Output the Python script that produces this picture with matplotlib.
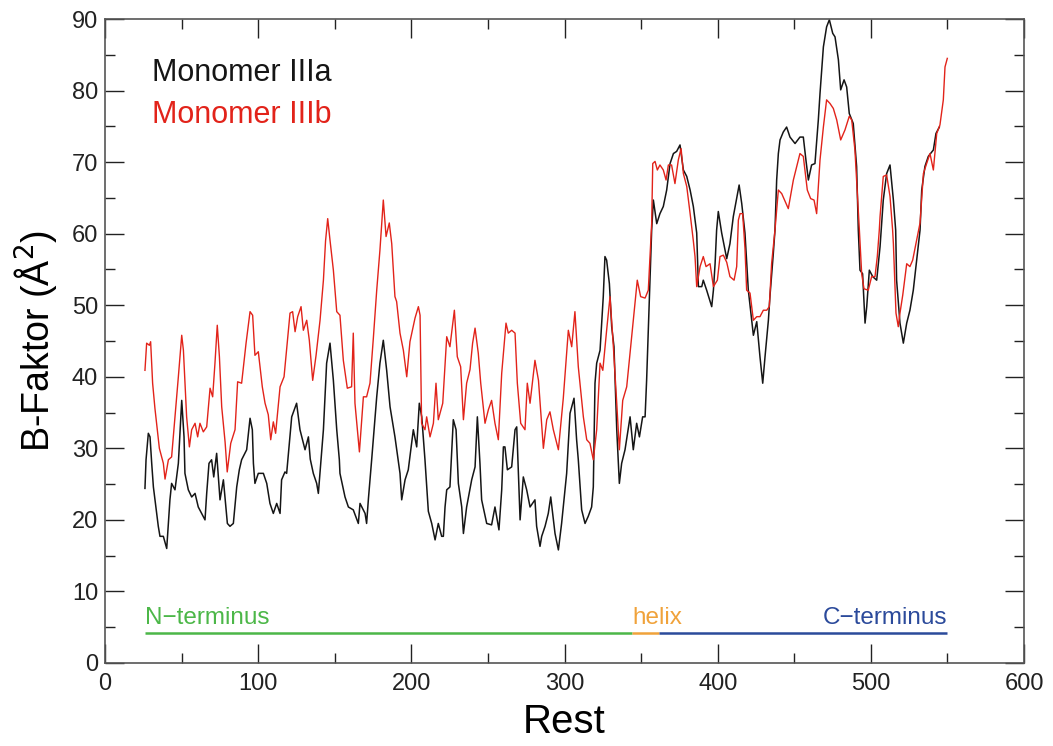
import numpy as np
import matplotlib
matplotlib.use('Agg')
import matplotlib.pyplot as plt
from matplotlib.ticker import MultipleLocator

plt.rcParams['font.family'] = ['Liberation Sans', 'DejaVu Sans']

# Monomer IIIa (black)
res_a = [26.1, 26.8, 28.3, 29.4, 30.5, 31.6, 34.8, 35.9, 38.1, 40.3, 42.4, 43.5, 45.7, 47.9, 50.1, 51.6,
         52.2, 54.4, 56.6, 58.8, 60.9, 63.1, 65.3, 66.4, 67.9, 69.6, 71.0, 72.9, 75.1, 77.3, 79.9, 81.6,
         83.8, 86.0, 87.7, 89.2, 92.5, 94.7, 96.2, 96.9, 97.9, 100.1, 103.4, 105.6, 107.7, 109.9, 112.1,
         114.3, 115.3, 117.5, 118.6, 121.9, 125.1, 127.3, 130.6, 132.8, 134.0, 136.0, 138.2, 139.3, 142.6,
         144.7, 146.9, 149.1, 151.3, 153.0, 153.4, 156.7, 158.9, 162.1, 165.4, 166.5, 169.8, 170.8, 172.0,
         174.1, 177.4, 179.5, 181.7, 183.9, 186.1, 189.3, 192.6, 193.7, 195.9, 198.0, 201.3, 203.5, 205.2,
         206.8, 208.9, 211.1, 213.3, 215.5, 217.6, 219.8, 220.9, 222.0, 223.1, 225.2, 227.4, 229.2, 230.7,
         232.9, 234.0, 236.1, 239.4, 241.6, 243.1, 244.8, 245.9, 249.2, 252.4, 254.6, 257.2, 259.0, 260.1,
         261.1, 262.7, 265.5, 267.7, 268.8, 269.9, 271.0, 273.1, 275.3, 277.5, 280.7, 281.8, 284.0, 285.1,
         287.3, 289.4, 291.0, 293.8, 296.0, 298.1, 301.4, 303.6, 306.2, 307.9, 309.0, 311.2, 313.4, 315.5,
         317.7, 318.8, 319.9, 321.0, 323.2, 325.3, 326.4, 327.5, 329.3, 330.8, 332.3, 334.1, 335.8, 337.3,
         339.5, 342.8, 344.9, 347.1, 348.9, 351.0, 352.6, 353.6, 354.7, 355.8, 356.9, 358.0, 360.2, 362.3,
         364.5, 366.7, 368.9, 371.1, 373.2, 375.4, 377.6, 379.8, 382.0, 384.1, 386.3, 387.4, 389.6, 390.6,
         392.8, 396.1, 397.2, 398.3, 399.3, 400.4, 402.6, 405.9, 408.0, 410.2, 414.0, 415.7, 417.8, 420.0,
         423.3, 425.5, 427.6, 429.4, 430.9, 433.1, 434.1, 436.3, 437.4, 438.5, 439.6, 440.7, 442.8, 445.0,
         447.2, 450.5, 453.7, 455.9, 457.6, 459.2, 461.3, 463.5, 465.7, 466.8, 469.0, 471.1, 472.9, 475.1,
         476.6, 478.8, 480.3, 482.5, 484.2, 485.9, 488.5, 490.7, 491.8, 492.9, 494.6, 496.2, 497.3, 499.0,
         501.2, 503.8, 506.0, 508.1, 510.3, 512.5, 514.7, 516.2, 516.8, 519.0, 521.2, 523.4, 525.5, 527.7,
         529.9, 532.1, 533.2, 535.3, 537.5, 540.8, 542.5, 544.7]
b_a = [24.4, 28.4, 32.1, 31.6, 27.9, 24.6, 19.1, 17.7, 17.7, 16.0, 22.8, 25.1, 24.2, 27.9, 36.7, 31.6,
       26.5, 24.2, 23.2, 23.7, 21.8, 20.9, 20.0, 23.7, 27.9, 28.4, 26.0, 29.3, 22.8, 25.6, 19.5, 19.1,
       19.5, 24.6, 27.0, 28.4, 29.8, 34.2, 32.6, 27.9, 25.1, 26.5, 26.5, 25.1, 22.3, 20.9, 22.3,
       20.9, 25.6, 26.7, 26.5, 34.4, 36.3, 32.6, 29.8, 31.6, 28.5, 26.5, 25.1, 23.7, 32.6,
       41.9, 44.7, 39.5, 32.6, 28.4, 26.5, 23.2, 21.8, 21.4, 19.5, 22.3, 20.9, 19.5, 23.0,
       28.4, 37.2, 41.9, 45.1, 40.9, 35.8, 31.6, 26.5, 22.8, 25.6, 27.0, 32.6, 30.2, 36.3,
       34.4, 28.4, 21.2, 19.5, 17.2, 19.5, 17.7, 17.7, 21.8, 24.2, 24.6, 34.0, 32.6, 25.1,
       21.8, 18.1, 21.8, 25.6, 27.4, 34.4, 27.9, 22.8, 19.5, 19.3, 21.8, 18.6, 24.2, 30.2,
       30.2, 27.0, 27.4, 32.6, 33.0, 26.5, 20.0, 26.0, 24.2, 21.8, 22.8, 19.1, 16.3, 17.7,
       19.1, 20.9, 23.2, 18.1, 15.8, 19.5, 26.5, 34.9, 37.0, 31.2, 28.4, 21.4, 19.5, 20.5,
       21.8, 24.6, 39.1, 41.9, 43.7, 51.2, 56.8, 56.3, 53.0, 47.0, 44.2, 32.6, 25.1, 27.9,
       29.8, 34.4, 29.8, 33.5, 31.6, 34.4, 34.4, 39.5, 46.5, 53.5, 60.5, 64.7, 61.4, 62.8,
       63.8, 66.1, 69.8, 71.2, 71.5, 72.4, 68.9, 68.0, 66.1, 63.8, 60.1, 52.6, 52.6, 53.5,
       52.1, 49.8, 52.1, 55.8, 60.5, 63.1, 60.1, 56.5, 58.6, 62.4, 66.8, 64.2, 60.1, 52.1,
       45.8, 47.7, 42.8, 39.1, 42.8, 47.9, 51.2, 57.2, 60.5, 67.5, 71.2, 73.1, 74.2, 74.9,
       73.5, 72.6, 73.5, 73.5, 70.3, 67.5, 69.6, 69.8, 75.9, 79.6, 86.1, 88.9, 89.9, 88.0,
       87.5, 84.3, 80.1, 81.5, 80.5, 76.8, 75.4, 69.4, 60.5, 54.9, 54.4, 47.5, 49.8, 54.9,
       54.0, 53.5, 58.2, 64.7, 68.4, 69.6, 64.7, 60.5, 53.5, 47.5, 44.7, 47.5, 49.3, 52.1,
       56.3, 60.5, 66.1, 69.4, 70.8, 71.7, 74.0, 74.9]

# Monomer IIIb (red)
res_b = [26.1, 27.2, 29.0, 29.8, 31.1, 32.6, 35.5, 38.1, 39.2, 41.4, 43.5, 45.7, 47.9, 50.1, 51.2, 53.3,
         55.1, 56.6, 58.8, 60.5, 62.0, 64.2, 66.4, 68.6, 70.3, 71.8, 73.3, 74.7, 76.2, 78.4, 79.8, 82.1,
         84.9, 86.6, 89.2, 92.1, 94.7, 96.4, 97.9, 100.1, 102.7, 104.5, 106.6, 108.2, 109.9, 111.4, 114.3,
         116.9, 119.1, 120.8, 122.5, 124.1, 125.8, 128.0, 129.5, 131.7, 133.4, 135.6, 137.8, 140.4, 142.6,
         144.0, 145.4, 146.9, 149.1, 151.3, 153.4, 155.6, 158.2, 161.0, 162.1, 163.2, 166.1, 168.7, 170.8,
         173.0, 175.2, 177.4, 179.5, 181.7, 183.5, 185.6, 187.2, 189.3, 190.4, 192.6, 194.8, 197.0, 199.1,
         202.4, 204.6, 205.7, 206.7, 208.9, 210.0, 212.2, 214.4, 216.1, 217.6, 220.5, 223.1, 225.2, 228.1,
         230.0, 232.2, 234.0, 236.1, 238.3, 240.0, 241.6, 243.7, 245.3, 248.1, 250.3, 252.4, 254.6, 256.8,
         259.0, 261.8, 263.3, 265.5, 267.7, 269.2, 271.4, 274.2, 275.7, 277.5, 280.7, 283.0, 286.2, 288.4,
         290.5, 292.7, 296.0, 299.2, 302.5, 304.7, 306.8, 309.0, 312.3, 314.5, 316.6, 318.8, 321.0, 323.2,
         325.0, 327.5, 329.7, 331.9, 334.1, 335.8, 338.0, 340.6, 343.2, 345.4, 347.5, 349.7, 352.6, 354.7,
         355.8, 356.9, 357.6, 359.1, 360.6, 362.3, 364.5, 366.3, 367.8, 369.9, 372.1, 374.3, 376.1, 377.6,
         379.8, 382.0, 384.1, 385.2, 386.3, 388.5, 390.6, 392.4, 395.0, 397.2, 399.8, 401.5, 403.7, 405.9,
         408.0, 410.7, 412.4, 413.5, 414.6, 416.3, 417.8, 418.9, 421.1, 423.3, 425.5, 427.6, 429.8, 432.0,
         433.7, 435.2, 437.4, 439.6, 441.8, 446.1, 449.4, 453.7, 455.9, 458.5, 460.7, 462.9, 464.6, 466.8,
         469.0, 471.1, 473.3, 475.5, 477.7, 480.3, 483.1, 485.9, 487.5, 489.6, 491.2, 492.5, 494.0, 495.5,
         498.3, 500.5, 502.7, 504.2, 505.5, 506.0, 508.1, 510.3, 512.5, 514.2, 514.7, 516.4, 517.9, 519.0,
         520.8, 523.4, 525.5, 527.3, 529.9, 532.1, 534.3, 536.4, 538.6, 540.8, 543.0, 545.1, 547.3, 548.4,
         549.9]
b_b = [40.9, 44.7, 44.4, 44.9, 39.1, 35.6, 30.0, 27.9, 25.7, 28.4, 28.8, 34.4, 40.0, 45.8, 43.7, 34.4,
       30.2, 32.6, 33.5, 31.6, 33.5, 32.3, 33.0, 38.4, 37.2, 41.9, 47.2, 42.8, 35.8, 30.9, 26.7, 30.7,
       32.6, 39.3, 39.1, 44.7, 49.1, 48.6, 43.0, 43.5, 38.6, 36.3, 34.7, 31.2, 33.7, 32.1, 38.6,
       40.0, 45.1, 48.9, 49.1, 46.3, 48.4, 49.8, 46.5, 47.9, 45.1, 39.5, 43.0, 47.9, 53.5,
       59.0, 62.1, 59.1, 54.9, 49.1, 48.6, 42.3, 38.4, 38.6, 46.1, 36.3, 29.5, 37.2, 37.2,
       39.1, 45.4, 52.1, 57.7, 64.7, 59.6, 61.5, 58.6, 51.2, 50.5, 46.1, 43.7, 40.0, 44.9,
       48.2, 49.8, 48.6, 33.5, 32.6, 34.4, 31.6, 33.5, 39.1, 34.0, 36.3, 45.6, 44.2, 49.3,
       42.8, 41.4, 34.0, 39.1, 41.0, 44.7, 46.8, 43.3, 39.1, 33.5, 35.4, 36.7, 33.5, 31.2,
       40.5, 47.5, 46.1, 46.5, 46.1, 39.1, 33.5, 32.6, 39.1, 36.3, 42.3, 39.5, 30.0, 34.0,
       35.1, 32.6, 29.8, 37.0, 46.5, 44.2, 49.1, 41.4, 34.4, 31.2, 30.7, 28.4, 32.6, 41.9,
       40.9, 46.5, 51.2, 44.2, 36.3, 29.8, 36.7, 38.6, 44.2, 48.9, 53.5, 51.2, 51.0, 52.1,
       56.8, 61.4, 69.8, 70.1, 68.9, 69.6, 68.9, 67.5, 69.6, 69.6, 67.0, 70.3, 71.9, 68.4,
       66.6, 62.8, 59.0, 56.8, 52.6, 55.4, 56.8, 55.4, 55.8, 52.6, 53.5, 56.8, 57.0, 56.0,
       54.0, 53.5, 55.4, 61.9, 62.8, 62.8, 58.0, 52.1, 51.7, 47.9, 48.4, 48.4, 49.3, 49.3,
       49.8, 55.8, 60.5, 66.1, 65.6, 63.5, 67.5, 71.2, 70.8, 66.1, 64.9, 64.7, 62.8, 70.3,
       74.9, 78.7, 78.2, 77.5, 75.9, 73.1, 74.5, 76.4, 75.9, 71.7, 65.6, 60.5, 54.4, 52.3,
       52.1, 54.0, 54.0, 56.8, 60.5, 62.4, 68.0, 68.2, 65.2, 60.5, 58.6, 48.9, 47.0, 48.9,
       51.4, 55.8, 55.4, 56.3, 59.1, 61.5, 68.4, 69.8, 71.2, 68.9, 74.0, 75.2, 78.7, 83.3,
       84.5]

# structural regions (residue ranges)
regions = ['N\u2212terminus', 'helix', 'C\u2212terminus']
region_start = [26, 344, 362]
region_end = [344, 362, 550]
region_colors = ['#4cb748', '#f0a23a', '#2b4a9b']

fig = plt.figure(figsize=(10.53, 7.46), dpi=100)
ax = fig.add_axes([0.0997, 0.1113, 0.8728, 0.8632])

ax.plot(res_a, b_a, color='#151515', lw=1.1)
ax.plot(res_b, b_b, color='#e2231a', lw=1.0)

for name, x0, x1, c in zip(regions, region_start, region_end, region_colors):
    ax.plot([x0, x1], [4.2, 4.2], color=c, lw=1.8, solid_capstyle='butt')
for name, x0, x1, c in zip(regions, region_start, region_end, region_colors):
    if name == 'C\u2212terminus':
        ax.text(x1, 4.8, name, color=c, fontsize=17.5, ha='right', va='bottom')
    else:
        ax.text(x0, 4.8, name, color=c, fontsize=17.5, ha='left', va='bottom')

ax.text(31, 82.4, 'Monomer IIIa', color='#151515', fontsize=22, va='center')
ax.text(31, 76.6, 'Monomer IIIb', color='#e2231a', fontsize=22, va='center')

ax.set_xlim(0, 600)
ax.set_ylim(0, 90)
ax.xaxis.set_major_locator(MultipleLocator(100))
ax.xaxis.set_minor_locator(MultipleLocator(50))
ax.yaxis.set_major_locator(MultipleLocator(10))
ax.yaxis.set_minor_locator(MultipleLocator(5))
ax.tick_params(which='both', direction='in', top=True, right=True, labelsize=17, width=1.0, colors='#222222')
ax.tick_params(which='major', length=13.5)
ax.tick_params(which='minor', length=7)
ax.tick_params(axis='x', pad=7)
ax.tick_params(axis='y', pad=5)
for s in ax.spines.values():
    s.set_color('#555555')
    s.set_linewidth(1.2)

ax.set_xlabel('Rest', fontsize=29, labelpad=6)
ax.set_ylabel('B-Faktor (\u00c5$^2$)', fontsize=27, labelpad=9)

fig.savefig('out.png', dpi=100)
